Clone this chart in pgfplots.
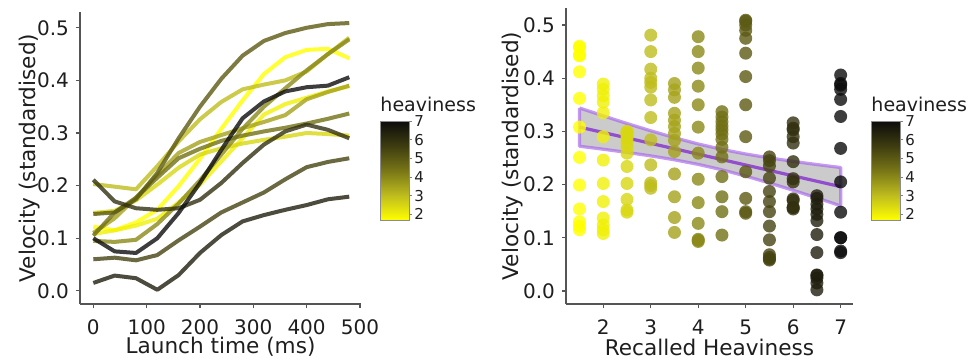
\documentclass[border=0pt]{standalone}
\usepackage{fontspec}
\setmainfont{DejaVu Sans}
\usepackage{pgfplots}
\usepackage{pgfplotstable}
\pgfplotsset{compat=1.18}

\definecolor{axgray}{RGB}{85,85,85}
\definecolor{txtgray}{RGB}{30,30,30}
\definecolor{bandfill}{RGB}{140,140,140}
\definecolor{bandedge}{RGB}{165,100,235}
\definecolor{fitline}{RGB}{140,65,205}

\pgfplotsset{
  colormap={yb}{rgb255(0cm)=(255,255,0) rgb255(1cm)=(190,188,30) rgb255(2cm)=(120,118,22) rgb255(3cm)=(62,60,16) rgb255(4cm)=(12,12,12)},
  /pgf/number format/assume math mode=true,
  myaxis/.style={
    scale only axis,
    anchor=south west,
    axis x line*=bottom, axis y line*=left,
    axis line style={axgray, line width=0.6pt, -},
    tick align=outside,
    major tick length=2pt,
    tick style={axgray, line width=0.6pt},
    tick label style={font=\fontsize{10}{12}\selectfont, text=txtgray},
    label style={font=\fontsize{10.8}{13}\selectfont, text=txtgray},
    point meta min=1.7, point meta max=7,
    colormap name=yb,
    ytick={0,0.1,0.2,0.3,0.4,0.5},
    yticklabel style={/pgf/number format/.cd, fixed, fixed zerofill, precision=1},
    xticklabel style={anchor=base, yshift=-13.5pt},
    colorbar,
    colorbar/width=14.5pt,
    colorbar style={
      anchor=north west,
      at={(parent axis.north east)},
      height=49.5pt,
      ytick={2,3,4,5,6,7},
      axis line style={black!45, line width=0.4pt},
      tick align=outside, major tick length=1.5pt,
      tick style={black!50, line width=0.4pt},
      ytick pos=right,
      yticklabel pos=right,
      yticklabel style={font=\fontsize{7.5}{9}\selectfont, text=txtgray, inner sep=1pt},
      title={heaviness},
      title style={at={(0,1)}, anchor=base west, yshift=-1.5pt, inner sep=0pt, font=\fontsize{9.5}{11}\selectfont, text=txtgray},
    },
  },
}

\pgfplotstableread{
t v h
0 0.122 1.5
40 0.115 1.5
80 0.130 1.5
120 0.154 1.5
160 0.199 1.5
200 0.251 1.5
240 0.308 1.5
280 0.362 1.5
320 0.412 1.5
360 0.444 1.5
400 0.458 1.5
440 0.460 1.5
480 0.442 1.5
}\dA
\pgfplotstableread{
t v h
0 0.108 2
40 0.115 2
80 0.124 2
120 0.137 2
160 0.168 2
200 0.202 2
240 0.246 2
280 0.290 2
320 0.335 2
360 0.355 2
400 0.367 2
440 0.379 2
480 0.389 2
}\dB
\pgfplotstableread{
t v h
0 0.148 2.5
40 0.152 2.5
80 0.172 2.5
120 0.202 2.5
160 0.234 2.5
200 0.259 2.5
240 0.271 2.5
280 0.280 2.5
320 0.287 2.5
360 0.293 2.5
400 0.300 2.5
440 0.298 2.5
480 0.295 2.5
}\dC
\pgfplotstableread{
t v h
0 0.203 3
40 0.198 3
80 0.193 3
120 0.237 3
160 0.284 3
200 0.326 3
240 0.359 3
280 0.383 3
320 0.392 3
360 0.400 3
400 0.417 3
440 0.450 3
480 0.481 3
}\dD
\pgfplotstableread{
t v h
0 0.110 3.5
40 0.138 3.5
80 0.177 3.5
120 0.220 3.5
160 0.262 3.5
200 0.283 3.5
240 0.296 3.5
280 0.309 3.5
320 0.321 3.5
360 0.334 3.5
400 0.364 3.5
440 0.378 3.5
480 0.390 3.5
}\dE
\pgfplotstableread{
t v h
0 0.095 4
40 0.093 4
80 0.097 4
120 0.127 4
160 0.166 4
200 0.210 4
240 0.259 4
280 0.308 4
320 0.350 4
360 0.385 4
400 0.419 4
440 0.450 4
480 0.478 4
}\dF
\pgfplotstableread{
t v h
0 0.105 4.5
40 0.149 4.5
80 0.177 4.5
120 0.215 4.5
160 0.252 4.5
200 0.270 4.5
240 0.285 4.5
280 0.295 4.5
320 0.303 4.5
360 0.310 4.5
400 0.318 4.5
440 0.327 4.5
480 0.337 4.5
}\dG
\pgfplotstableread{
t v h
0 0.146 5
40 0.149 5
80 0.174 5
120 0.224 5
160 0.290 5
200 0.350 5
240 0.403 5
280 0.447 5
320 0.475 5
360 0.490 5
400 0.500 5
440 0.507 5
480 0.509 5
}\dH
\pgfplotstableread{
t v h
0 0.060 5.5
40 0.063 5.5
80 0.058 5.5
120 0.068 5.5
160 0.096 5.5
200 0.122 5.5
240 0.149 5.5
280 0.168 5.5
320 0.187 5.5
360 0.212 5.5
400 0.235 5.5
440 0.245 5.5
480 0.252 5.5
}\dI
\pgfplotstableread{
t v h
0 0.211 6
40 0.170 6
80 0.157 6
120 0.154 6
160 0.157 6
200 0.173 6
240 0.205 6
280 0.243 6
320 0.278 6
360 0.303 6
400 0.316 6
440 0.306 6
480 0.290 6
}\dJ
\pgfplotstableread{
t v h
0 0.015 6.5
40 0.029 6.5
80 0.024 6.5
120 0.002 6.5
160 0.030 6.5
200 0.072 6.5
240 0.106 6.5
280 0.132 6.5
320 0.144 6.5
360 0.154 6.5
400 0.163 6.5
440 0.174 6.5
480 0.179 6.5
}\dK
\pgfplotstableread{
t v h
0 0.100 7
40 0.075 7
80 0.072 7
120 0.100 7
160 0.148 7
200 0.205 7
240 0.268 7
280 0.328 7
320 0.360 7
360 0.379 7
400 0.387 7
440 0.390 7
480 0.406 7
}\dL

\begin{document}
\begin{tikzpicture}
\useasboundingbox (0,0) rectangle (485.5pt,181pt);

% ---------------- left panel ----------------
\begin{axis}[
  myaxis,
  at={(40pt,29pt)},
  width=140.5pt, height=146pt,
  xmin=-25, xmax=502, ymin=-0.025, ymax=0.53,
  xtick={0,100,200,300,400,500},
  xlabel={Launch time (ms)},
  ylabel={Velocity (standardised)},
  xlabel style={at={(axis description cs:0.5,0)}, anchor=base, yshift=-24.7pt},
  ylabel style={at={(axis description cs:-0.181,0.5)}, anchor=center},
  colorbar style={xshift=1pt, yshift=-54.5pt},
]
\addplot[line width=2pt, opacity=0.8, line join=round, color of colormap={0 of yb}] table[x=t,y=v] {\dA};
\addplot[line width=2pt, opacity=0.8, line join=round, color of colormap={57 of yb}] table[x=t,y=v] {\dB};
\addplot[line width=2pt, opacity=0.8, line join=round, color of colormap={151 of yb}] table[x=t,y=v] {\dC};
\addplot[line width=2pt, opacity=0.8, line join=round, color of colormap={245 of yb}] table[x=t,y=v] {\dD};
\addplot[line width=2pt, opacity=0.8, line join=round, color of colormap={340 of yb}] table[x=t,y=v] {\dE};
\addplot[line width=2pt, opacity=0.8, line join=round, color of colormap={434 of yb}] table[x=t,y=v] {\dF};
\addplot[line width=2pt, opacity=0.8, line join=round, color of colormap={528 of yb}] table[x=t,y=v] {\dG};
\addplot[line width=2pt, opacity=0.8, line join=round, color of colormap={623 of yb}] table[x=t,y=v] {\dH};
\addplot[line width=2pt, opacity=0.8, line join=round, color of colormap={717 of yb}] table[x=t,y=v] {\dI};
\addplot[line width=2pt, opacity=0.8, line join=round, color of colormap={811 of yb}] table[x=t,y=v] {\dJ};
\addplot[line width=2pt, opacity=0.8, line join=round, color of colormap={906 of yb}] table[x=t,y=v] {\dK};
\addplot[line width=2pt, opacity=0.8, line join=round, color of colormap={1000 of yb}] table[x=t,y=v] {\dL};
\end{axis}

% ---------------- right panel ----------------
\begin{axis}[
  myaxis,
  at={(283pt,29pt)},
  width=143.5pt, height=148pt,
  xmin=1.215, xmax=7.26, ymin=-0.0246, ymax=0.532,
  xtick={2,3,4,5,6,7},
  xlabel={Recalled Heaviness},
  ylabel={Velocity (standardised)},
  xlabel style={at={(axis description cs:0.5,0)}, anchor=base, yshift=-26pt},
  ylabel style={at={(axis description cs:-0.188,0.5)}, anchor=center},
  colorbar style={xshift=0.5pt, yshift=-56.5pt},
  scatterstyle/.style={scatter, only marks, mark=*, mark size=3.25pt,
     point meta=\thisrow{h},
     scatter/use mapped color={draw opacity=0, fill=mapped color, fill opacity=0.8}},
]
\addplot[scatterstyle] table[x=h,y=v] {\dA};
\addplot[scatterstyle] table[x=h,y=v] {\dB};
\addplot[scatterstyle] table[x=h,y=v] {\dC};
\addplot[scatterstyle] table[x=h,y=v] {\dD};
\addplot[scatterstyle] table[x=h,y=v] {\dE};
\addplot[scatterstyle] table[x=h,y=v] {\dF};
\addplot[scatterstyle] table[x=h,y=v] {\dG};
\addplot[scatterstyle] table[x=h,y=v] {\dH};
\addplot[scatterstyle] table[x=h,y=v] {\dI};
\addplot[scatterstyle] table[x=h,y=v] {\dJ};
\addplot[scatterstyle] table[x=h,y=v] {\dK};
\addplot[scatterstyle] table[x=h,y=v] {\dL};
% confidence band
\addplot[fill=bandfill, fill opacity=0.45, draw=bandedge, draw opacity=0.65, line width=1.6pt, line join=round] coordinates {
(1.5,0.344) (2,0.3292) (2.5,0.3148) (3,0.3011) (3.5,0.2881) (4,0.2763) (4.5,0.2661) (5,0.2575) (5.5,0.2501) (6,0.2436) (6.5,0.2376) (7,0.232)
(7,0.160) (6.5,0.1748) (6,0.1892) (5.5,0.2029) (5,0.2159) (4.5,0.2277) (4,0.2379) (3.5,0.2465) (3,0.2539) (2.5,0.2604) (2,0.2664) (1.5,0.272) (1.5,0.344)
};
% fitted line
\addplot[fitline, line width=1.6pt, opacity=0.9] coordinates {(1.5,0.308) (4,0.2571) (7,0.196)};
\end{axis}
\end{tikzpicture}
\end{document}
